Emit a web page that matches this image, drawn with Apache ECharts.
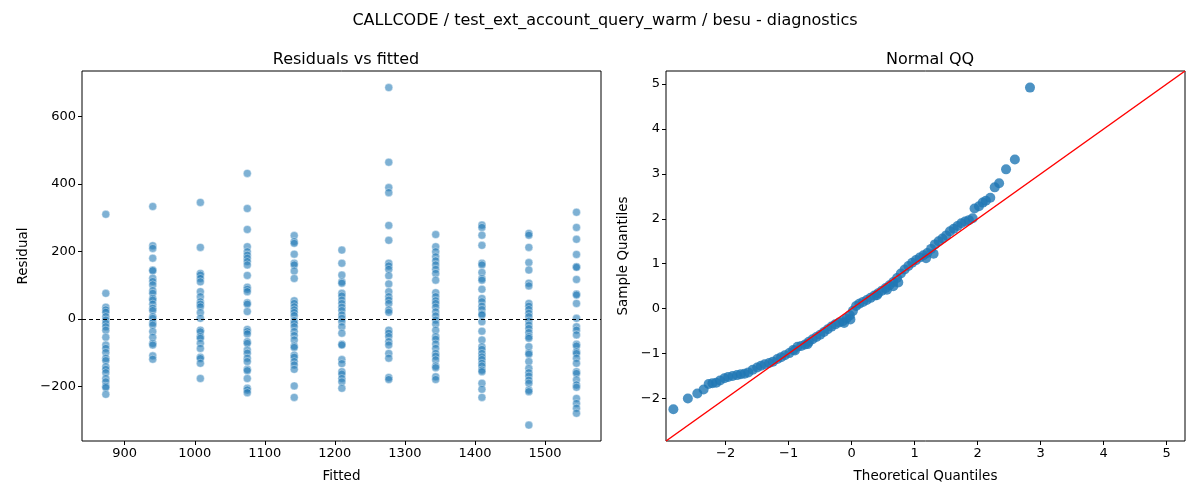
<!DOCTYPE html>
<html>
<head>
<meta charset="utf-8">
<script src="https://cdn.jsdelivr.net/npm/echarts@6/dist/echarts.min.js"></script>
<style>
  html, body { margin: 0; padding: 0; background: #fff; }
  #chart { width: 1200px; height: 500px; }
</style>
</head>
<body>
<div id="chart"></div>
<script>
/*
* data
*/
var fittedLevels = [873, 940, 1008, 1075, 1142, 1210, 1277, 1344, 1410, 1477, 1545];

var residualsByLevel = [
  [310, 76, 35, 27, 20, 7, -3, -13, -23, -33, -54, -77, -87, -99, -116, -123, -141, -149, -159, -176, -186, -199, -203, -223],
  [333, 217, 209, 180, 145, 143, 121, 111, 101, 84, 76, 61, 56, 44, 32, 25, 7, 2, -11, -18, -37, -54, -72, -77, -109, -119],
  [345, 212, 135, 130, 120, 110, 81, 66, 51, 44, 36, 19, 2, -33, -38, -52, -57, -72, -87, -113, -117, -131, -176],
  [431, 327, 265, 214, 199, 189, 180, 170, 160, 129, 94, 88, 81, 48, 44, 22, -31, -37, -44, -67, -72, -92, -101, -116, -126, -149, -153, -176, -205, -210, -218],
  [247, 229, 224, 192, 165, 160, 142, 120, 54, 46, 36, 27, 19, 10, -5, -13, -23, -37, -49, -62, -80, -84, -107, -113, -126, -136, -149, -198, -232],
  [204, 165, 130, 110, 106, 76, 68, 56, 46, 35, 25, 12, 2, -8, -23, -42, -75, -77, -120, -132, -156, -163, -176, -186, -205],
  [685, 464, 389, 374, 277, 233, 165, 157, 147, 128, 104, 81, 66, 56, 46, 27, 20, -33, -42, -52, -67, -77, -102, -116, -173, -179],
  [250, 214, 199, 184, 172, 160, 147, 135, 115, 78, 66, 54, 46, 35, 21, 9, -3, -15, -33, -52, -60, -74, -87, -102, -110, -121, -139, -144, -171, -179],
  [278, 271, 248, 218, 165, 160, 138, 120, 115, 88, 61, 51, 38, 28, 15, 12, -8, -36, -62, -82, -90, -102, -112, -120, -131, -139, -151, -156, -190, -208, -232],
  [253, 248, 212, 167, 145, 106, 98, 46, 38, 28, 17, 7, -6, -18, -28, -40, -52, -57, -82, -100, -104, -126, -146, -159, -169, -181, -190, -210, -215, -314],
  [316, 271, 236, 191, 155, 153, 117, 74, 71, 46, 2, -23, -33, -47, -75, -80, -97, -102, -116, -131, -156, -161, -180, -195, -202, -235, -250, -264, -279]
];

var qqTheoretical = [
  -2.83, -2.60, -2.45, -2.35, -2.27, -2.21, -2.15, -2.09, -2.02, -1.96,
  -1.89, -1.82, -1.76, -1.70, -1.64, -1.57, -1.50, -1.44, -1.38, -1.31,
  -1.25, -1.18, -1.12, -1.06, -0.99, -0.93, -0.86, -0.80, -0.74, -0.68,
  -0.62, -0.56, -0.50, -0.44, -0.38, -0.32, -0.26, -0.20, -0.14, -0.08,
  -0.03, 0.02, 0.07, 0.12, 0.18, 0.24, 0.30, 0.36, 0.42, 0.48,
  0.54, 0.60, 0.66, 0.72, 0.78, 0.84, 0.90, 0.96, 1.02, 1.08,
  1.14, 1.20, 1.26, 1.32, 1.38, 1.44, 1.50, 1.56, 1.62, 1.68,
  1.74, 1.80, 1.86, 1.92, 1.95, 2.02, 2.08, 2.13, 2.20, 2.27,
  2.34, 2.45, 2.59, 2.83,
  -0.90, -0.70, -0.12, -0.02, 0.40, 0.56, 0.66, 0.74, 1.18, 1.30
];
var qqSample = [
  -2.24, -2.00, -1.89, -1.80, -1.68, -1.66, -1.65, -1.60, -1.55, -1.52,
  -1.50, -1.48, -1.46, -1.45, -1.42, -1.36, -1.31, -1.27, -1.24, -1.21,
  -1.18, -1.12, -1.08, -1.04, -0.99, -0.92, -0.85, -0.83, -0.80, -0.74,
  -0.68, -0.63, -0.58, -0.52, -0.46, -0.40, -0.35, -0.31, -0.28, -0.22,
  -0.15, -0.05, 0.06, 0.11, 0.15, 0.19, 0.24, 0.29, 0.34, 0.40,
  0.46, 0.52, 0.59, 0.68, 0.78, 0.87, 0.95, 1.02, 1.08, 1.14,
  1.19, 1.24, 1.33, 1.43, 1.50, 1.56, 1.63, 1.72, 1.78, 1.84,
  1.90, 1.94, 1.97, 2.01, 2.23, 2.28, 2.36, 2.40, 2.47, 2.70,
  2.79, 3.10, 3.32, 4.92,
  -0.93, -0.79, -0.32, -0.24, 0.30, 0.42, 0.50, 0.58, 1.12, 1.22
];

var residTicks = [-200, 0, 200, 400, 600];
var fittedTicks = [900, 1000, 1100, 1200, 1300, 1400, 1500];
var qqTicks = [-2, -1, 0, 1, 2, 3, 4, 5];

// axis ranges
var fitMin = 839, fitMax = 1580;
var resMin = -361, resMax = 734;
var qqMin = -2.947, qqMax = 5.29;

var residPoints = [];
residualsByLevel.forEach(function (arr, i) {
  arr.forEach(function (r) { residPoints.push([fittedLevels[i], r]); });
});
var qqPoints = qqTheoretical.map(function (x, i) { return [x, qqSample[i]]; });

var font = 'DejaVu Sans';
function minus(v) { return String(v).replace('-', '\u2212'); }

function axisCommon(ticks) {
  return {
    axisLine: { show: false, onZero: false },
    splitLine: { show: false },
    axisTick: { show: true, inside: false, length: 4, customValues: ticks, lineStyle: { color: '#000' } },
    axisLabel: { customValues: ticks, color: '#000', fontFamily: font, fontSize: 13, margin: 6, formatter: minus },
    nameTextStyle: { color: '#000', fontFamily: font, fontSize: 13.5 }
  };
}

var chart = echarts.init(document.getElementById('chart'));

var xL = axisCommon(fittedTicks);
xL.gridIndex = 0; xL.type = 'value'; xL.min = fitMin; xL.max = fitMax;
xL.name = 'Fitted'; xL.nameLocation = 'middle'; xL.nameGap = 28;
var yL = axisCommon(residTicks);
yL.gridIndex = 0; yL.type = 'value'; yL.min = resMin; yL.max = resMax;
yL.name = 'Residual'; yL.nameLocation = 'middle'; yL.nameGap = 52;
var xR = axisCommon(qqTicks);
xR.gridIndex = 1; xR.type = 'value'; xR.min = qqMin; xR.max = qqMax;
xR.name = 'Theoretical Quantiles'; xR.nameLocation = 'middle'; xR.nameGap = 28;
var yR = axisCommon(qqTicks);
yR.gridIndex = 1; yR.type = 'value'; yR.min = qqMin; yR.max = qqMax;
yR.name = 'Sample Quantiles'; yR.nameLocation = 'middle'; yR.nameGap = 36;

var option = {
  backgroundColor: '#fff',
  animation: false,
  title: [
    { text: 'CALLCODE / test_ext_account_query_warm / besu - diagnostics', left: 600, top: 8, textAlign: 'center',
      textStyle: { fontFamily: font, fontSize: 16, fontWeight: 'normal', color: '#000' } },
    { text: 'Residuals vs fitted', left: 341, top: 47, textAlign: 'center',
      textStyle: { fontFamily: font, fontSize: 16, fontWeight: 'normal', color: '#000' } },
    { text: 'Normal QQ', left: 925, top: 47, textAlign: 'center',
      textStyle: { fontFamily: font, fontSize: 16, fontWeight: 'normal', color: '#000' } }
  ],
  grid: [
    { left: 82, top: 71, width: 519, height: 370, show: true, borderColor: '#000', borderWidth: 1, backgroundColor: 'transparent' },
    { left: 666, top: 71, width: 519, height: 370, show: true, borderColor: '#000', borderWidth: 1, backgroundColor: 'transparent' }
  ],
  xAxis: [xL, xR],
  yAxis: [yL, yR],
  series: [
    {
      type: 'scatter', xAxisIndex: 0, yAxisIndex: 0,
      data: residPoints, symbolSize: 8,
      itemStyle: { color: 'rgba(31,119,180,0.72)', borderColor: 'rgba(255,255,255,0.8)', borderWidth: 0.6 },
      markLine: {
        silent: true, symbol: 'none', label: { show: false },
        lineStyle: { color: '#000', type: [4, 3], width: 1.2 },
        data: [{ yAxis: 0 }]
      }
    },
    {
      type: 'scatter', xAxisIndex: 1, yAxisIndex: 1,
      data: qqPoints, symbolSize: 10,
      itemStyle: { color: '#1f77b4' }
    },
    {
      type: 'line', xAxisIndex: 1, yAxisIndex: 1,
      data: [[qqMin, qqMin], [qqMax, qqMax]],
      symbol: 'none', lineStyle: { color: '#ff0000', width: 1.5 }
    }
  ]
};

chart.setOption(option);
</script>
</body>
</html>
